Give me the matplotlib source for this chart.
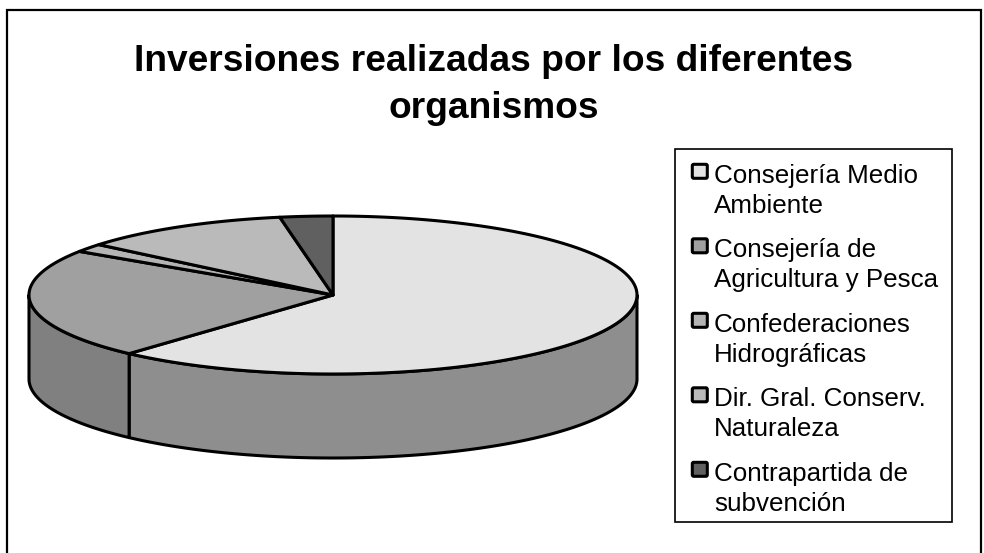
import numpy as np
import matplotlib
matplotlib.use("Agg")
import matplotlib.pyplot as plt
from matplotlib.patches import Polygon, Rectangle, FancyBboxPatch

plt.rcParams['font.family'] = ['Liberation Sans', 'DejaVu Sans']

title = "Inversiones realizadas por los diferentes\norganismos"
categories = ["Consejería Medio\nAmbiente", "Consejería de\nAgricultura y Pesca",
              "Confederaciones\nHidrográficas", "Dir. Gral. Conserv.\nNaturaleza",
              "Contrapartida de\nsubvención"]
values = [61.7, 22.6, 1.7, 11.2, 2.8]
top_colors = ["#E3E3E3", "#A0A0A0", "#B4B4B4", "#BABABA", "#606060"]
side_colors = ["#8E8E8E", "#808080", "#8A8A8A", "#8C8C8C", "#484848"]

CX, CY, RX, RY, DEPTH = 333, 295, 304, 79, 84
LW = 2.2

fig = plt.figure(figsize=(9.84, 5.53), dpi=100)
ax = fig.add_axes([0, 0, 1, 1])
ax.set_xlim(0, 984)
ax.set_ylim(553, 0)
ax.axis("off")

# chart frame: its bottom edge falls outside the image
ax.add_patch(Rectangle((6.5, 10), 974.5, 560, fc="white", ec="black", lw=1.6, zorder=0))

def rim(a0, a1, n=200):
    t = np.radians(np.linspace(a0, a1, n))
    return CX + RX * np.sin(t), CY - RY * np.cos(t)

edges = np.concatenate([[0], np.cumsum(values)]) / sum(values) * 360

for a0, a1, col in zip(edges[:-1], edges[1:], side_colors):
    lo, hi = max(a0, 90), min(a1, 270)
    if lo >= hi:
        continue
    x, y = rim(lo, hi)
    pts = np.column_stack([np.r_[x, x[::-1]], np.r_[y, y[::-1] + DEPTH]])
    ax.add_patch(Polygon(pts, closed=True, fc=col, ec="black", lw=LW, joinstyle="round", zorder=1))

for a0, a1, col in zip(edges[:-1], edges[1:], top_colors):
    x, y = rim(a0, a1)
    pts = np.column_stack([np.r_[CX, x], np.r_[CY, y]])
    ax.add_patch(Polygon(pts, closed=True, fc=col, ec="black", lw=LW, joinstyle="round", zorder=2))

ax.text(494, 85, title, ha="center", va="center", fontsize=26.7, fontweight="bold",
        linespacing=1.45, color="black")

# legend box, swatch beside the first line of each entry
ax.add_patch(Rectangle((675, 149), 277, 373, fc="white", ec="black", lw=1.2, zorder=3))
for i, (label, col) in enumerate(zip(categories, top_colors)):
    ax.add_patch(FancyBboxPatch((692.3, 164.3 + 74.5 * i), 15, 14, boxstyle="round,pad=0,rounding_size=1.5",
                                fc=col, ec="black", lw=2.2, zorder=4))
    ax.text(714, 212.7 + 74.5 * i, label, ha="left", va="baseline", fontsize=18.7,
            linespacing=1.3, color="black", zorder=4)

fig.savefig("out.png", dpi=100)
